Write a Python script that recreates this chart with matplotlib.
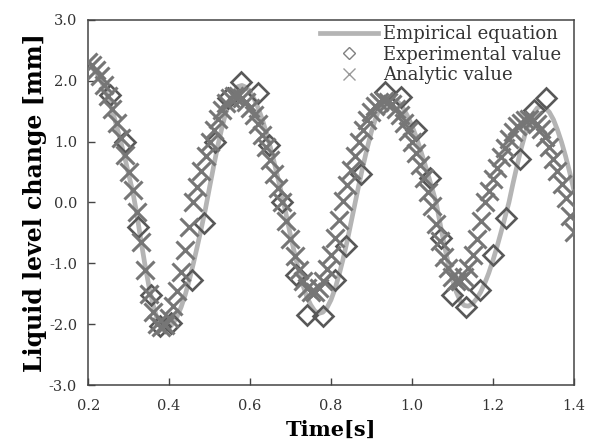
import numpy as np
import matplotlib
matplotlib.use('Agg')
import matplotlib.pyplot as plt

# Experimental value (diamonds)
EXP_T = [0.255, 0.290, 0.322, 0.355, 0.378, 0.405, 0.456, 0.486, 0.514, 0.545,
         0.577, 0.619, 0.648, 0.680, 0.713, 0.742, 0.780, 0.810, 0.838, 0.875,
         0.934, 0.974, 1.011, 1.044, 1.072, 1.100, 1.135, 1.168, 1.200, 1.233,
         1.268, 1.301, 1.332]
EXP_Y = [1.76, 1.00, -0.40, -1.52, -2.02, -1.98, -1.27, -0.34, 1.00, 1.72,
         1.98, 1.80, 0.94, 0.01, -1.19, -1.84, -1.87, -1.27, -0.71, 0.46,
         1.82, 1.73, 1.19, 0.40, -0.59, -1.52, -1.71, -1.43, -0.86, -0.25,
         0.71, 1.52, 1.72]

# time axis shared by the analytic values and the empirical curve (0.20 .. 1.40 s)
T = [round(0.20 + 0.01 * i, 2) for i in range(121)]

# Analytic value (crosses)
ANA_Y = [2.30, 2.26, 2.18, 2.07, 1.93, 1.75, 1.54, 1.31, 1.05, 0.78,
         0.50, 0.21, -0.15, -0.65, -1.11, -1.50, -1.80, -1.99, -2.05, -2.01,
         -1.89, -1.70, -1.45, -1.14, -0.78, -0.40, 0.00, 0.26, 0.52, 0.76,
         0.99, 1.19, 1.37, 1.52, 1.63, 1.71, 1.74, 1.75, 1.71, 1.65,
         1.55, 1.43, 1.28, 1.10, 0.91, 0.70, 0.47, 0.24, 0.00, -0.31,
         -0.60, -0.87, -1.10, -1.28, -1.41, -1.47, -1.47, -1.41, -1.28, -1.09,
         -0.86, -0.58, -0.28, 0.03, 0.28, 0.54, 0.77, 0.99, 1.19, 1.36,
         1.49, 1.59, 1.65, 1.67, 1.65, 1.61, 1.54, 1.44, 1.31, 1.17,
         1.00, 0.81, 0.61, 0.40, 0.18, -0.06, -0.36, -0.64, -0.89, -1.08,
         -1.22, -1.29, -1.29, -1.22, -1.07, -0.86, -0.60, -0.31, 0.00, 0.19,
         0.39, 0.57, 0.74, 0.90, 1.04, 1.15, 1.25, 1.31, 1.36, 1.37,
         1.35, 1.29, 1.20, 1.07, 0.91, 0.72, 0.52, 0.30, 0.07, -0.22,
         -0.48]

# Empirical equation (thick light gray curve)
EMP_Y = [2.25, 2.21, 2.13, 2.02, 1.88, 1.70, 1.50, 1.26, 1.01, 0.75,
         0.46, 0.18, -0.18, -0.61, -1.01, -1.37, -1.67, -1.90, -2.03, -2.08,
         -2.06, -1.98, -1.87, -1.71, -1.51, -1.27, -1.00, -0.71, -0.41, -0.10,
         0.25, 0.59, 0.92, 1.21, 1.47, 1.67, 1.81, 1.90, 1.92, 1.89,
         1.82, 1.70, 1.55, 1.37, 1.15, 0.91, 0.65, 0.37, 0.09, -0.22,
         -0.54, -0.83, -1.11, -1.34, -1.54, -1.68, -1.78, -1.82, -1.80, -1.73,
         -1.60, -1.42, -1.19, -0.93, -0.64, -0.32, 0.00, 0.32, 0.62, 0.90,
         1.16, 1.37, 1.54, 1.65, 1.71, 1.72, 1.68, 1.62, 1.53, 1.41,
         1.26, 1.09, 0.89, 0.68, 0.46, 0.23, 0.00, -0.35, -0.69, -1.00,
         -1.26, -1.47, -1.62, -1.69, -1.70, -1.66, -1.58, -1.47, -1.33, -1.16,
         -0.96, -0.74, -0.50, -0.25, 0.00, 0.31, 0.60, 0.88, 1.12, 1.31,
         1.46, 1.55, 1.58, 1.55, 1.48, 1.36, 1.19, 0.99, 0.76, 0.50,
         0.22]

XTICKS = [0.2, 0.4, 0.6, 0.8, 1.0, 1.2, 1.4]
YTICKS = [-3.0, -2.0, -1.0, 0.0, 1.0, 2.0, 3.0]

SERIF = ['DejaVu Serif']

fig = plt.figure(figsize=(5.92, 4.45), dpi=100)
ax = fig.add_axes([0.149, 0.134, 0.820, 0.822])

ax.plot(T, EMP_Y, '-', color='#b4b4b4', linewidth=3.4, label='Empirical equation', zorder=2)
ax.plot(EXP_T, EXP_Y, 'D', markersize=10.5, markerfacecolor='none', markeredgecolor='#585858',
        markeredgewidth=1.9, linestyle='none', label='Experimental value', zorder=3)
ax.plot(T, ANA_Y, 'x', markersize=13.5, markeredgecolor='#767676', markeredgewidth=2.2,
        linestyle='none', label='Analytic value', zorder=4)

ax.set_xlim(0.2, 1.4)
ax.set_ylim(-3.0, 3.0)
ax.set_xticks(XTICKS)
ax.set_yticks(YTICKS)
ax.set_xticklabels([f'{v:.1f}' for v in XTICKS], fontfamily=SERIF, fontsize=10.5, color='#333333')
ax.set_yticklabels([f'{v:.1f}' for v in YTICKS], fontfamily=SERIF, fontsize=10.5, color='#333333')
ax.tick_params(axis='both', direction='in', length=5, width=1, color='#444444')
ax.tick_params(axis='x', pad=10)
ax.tick_params(axis='y', pad=8)
for sp in ax.spines.values():
    sp.set_color('#444444')
    sp.set_linewidth(1.1)

ax.set_xlabel('Time[s]', fontfamily=SERIF, fontsize=15, fontweight='bold', labelpad=5)
ax.set_ylabel('Liquid level change [mm]', fontfamily=SERIF, fontsize=17, fontweight='bold', labelpad=1)

leg = ax.legend(loc='upper right', bbox_to_anchor=(0.975, 0.985), frameon=False,
                prop={'family': SERIF, 'size': 13}, handlelength=3.2, handletextpad=0.3,
                labelspacing=0.15, markerscale=0.6, borderaxespad=0.0, borderpad=0.0)
for txt in leg.get_texts():
    txt.set_color('#333333')
# legend markers are drawn thinner and lighter than in the plot
leg.legend_handles[1].set_markeredgewidth(1.0)
leg.legend_handles[1].set_markeredgecolor('#808080')
leg.legend_handles[2].set_markeredgewidth(1.0)
leg.legend_handles[2].set_markeredgecolor('#9a9a9a')

fig.savefig('out.png', dpi=100)
